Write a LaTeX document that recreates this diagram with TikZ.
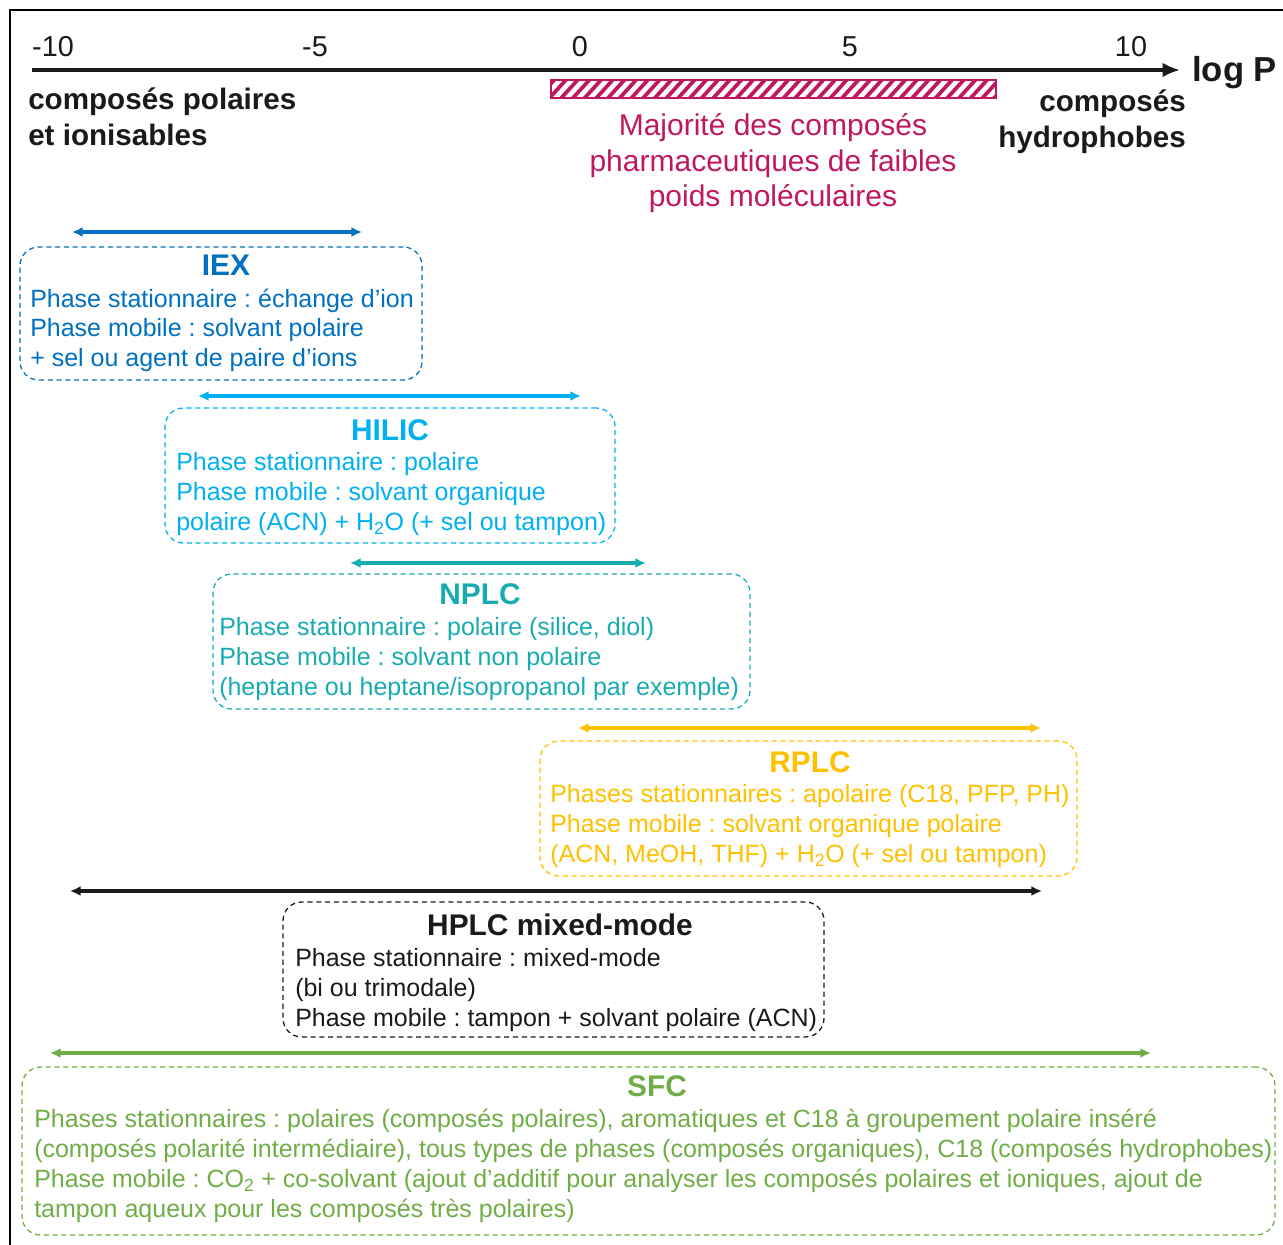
\documentclass[tikz,border=0pt]{standalone}
\usepackage{fontspec}
\setmainfont{Liberation Sans}
\usetikzlibrary{arrows.meta,fit}
\definecolor{iexc}{HTML}{0070C0}
\definecolor{hilicc}{HTML}{00B0F0}
\definecolor{nplcc}{HTML}{17ABB2}
\definecolor{rplcc}{HTML}{FFC000}
\definecolor{sfcc}{HTML}{70AD47}
\definecolor{pharmc}{HTML}{C0185E}
\definecolor{inkc}{HTML}{1A1A1A}
\frenchspacing
\newcommand\mylines[1]{\begin{tabular}[t]{@{}l@{}}#1\end{tabular}}
\newcommand\mylinesc[1]{\begin{tabular}[t]{@{}c@{}}#1\end{tabular}}
\newcommand\mylinesr[1]{\begin{tabular}[t]{@{}r@{}}#1\end{tabular}}
\tikzset{
  frameline/.style={line width=1.5pt, draw=black},
  axisline/.style={line width=3.5pt, draw=inkc, -{Latex[length=13pt,width=11pt]}},
  rng/.style={line width=2.4pt, {Latex[length=8pt,width=7.5pt]}-{Latex[length=8pt,width=7.5pt]}},
  mbox/.style={draw, line width=0.95pt, dash pattern=on 3.8pt off 2.8pt, rounded corners=14pt, inner sep=0pt},
  boxtitle/.style={font=\fontsize{22.4}{27}\selectfont\bfseries, anchor=base, inner sep=0pt},
  body/.style={font=\fontsize{18.75}{22.5}\selectfont, anchor=base west, inner sep=0pt},
  tick/.style={font=\fontsize{21.6}{26}\selectfont, text=inkc, anchor=base, inner sep=0pt},
  sidelab/.style={font=\fontsize{22.2}{27}\selectfont\bfseries, text=inkc, inner sep=0pt},
}
\begin{document}
\begin{tikzpicture}[x=0.75pt,y=-0.75pt]
\useasboundingbox (0,0) rectangle (1283,1245);
% frame
\draw[frameline] (10,1245) -- (10,10) -- (1283,10);
% axis
\coordinate (axL) at (32,70);
\coordinate (axR) at (1180,70);
\draw[axisline] (axL) -- (axR);
\node[tick] (tm10) at (53,57) {-10};
\node[tick] (tm5) at (315,57) {-5};
\node[tick] (t0) at (580,57) {0};
\node[tick] (t5) at (850,57) {5};
\node[tick] (t10) at (1131,57) {10};
\node[font=\fontsize{26}{30}\selectfont\bfseries, text=inkc, anchor=base west, inner sep=0pt] (logp) at (1192,82) {log P};
\node[sidelab, anchor=base west] (polar) at (28,110) {\fontsize{22.2}{27}\selectfont\mylines{composés polaires\\et ionisables}};
\node[sidelab, anchor=base east] (hydro) at (1186,112) {\fontsize{22.2}{26.5}\selectfont\mylinesr{composés\\hydrophobes}};
% hatched bar
\begin{scope}
\clip (551,80) rectangle (996,98);
\foreach \xx in {536,547.7,...,1010} {
  \draw[pharmc, line width=2.8pt] (\xx,100) -- (\xx+20,78);
}
\end{scope}
\node[draw=pharmc, line width=1.4pt, inner sep=0pt, fit={(551,80) (996,98)}] (bar) {};
\node[font=\fontsize{22.5}{26.6}\selectfont, text=pharmc, anchor=base, inner sep=0pt] (pharm) at (773,136) {\mylinesc{Majorité des composés\\pharmaceutiques de faibles\\poids moléculaires}};
% IEX
\coordinate (iexA) at (72,232); \coordinate (iexB) at (362,232);
\draw[rng, iexc] (iexA) -- (iexB);
\node[mbox, draw=iexc, fit={(20,247) (422,380)}] (iexbox) {};
\node[boxtitle, text=iexc] (iext) at (226,276) {IEX};
\node[body, text=iexc] (iexb) at (30,307) {\mylines{Phase stationnaire : échange d’ion\\Phase mobile : solvant polaire\\+ sel ou agent de paire d’ions}};
% HILIC
\coordinate (hilA) at (198,396); \coordinate (hilB) at (581,396);
\draw[rng, hilicc] (hilA) -- (hilB);
\node[mbox, draw=hilicc, fit={(165,408) (615,543)}] (hilbox) {};
\node[boxtitle, text=hilicc] (hilt) at (390,440) {HILIC};
\node[body, text=hilicc] (hilb) at (176,470) {\mylines{Phase stationnaire : polaire\\Phase mobile : solvant organique\\polaire (ACN) + H\textsubscript{2}O (+ sel ou tampon)}};
% NPLC
\coordinate (npA) at (350,563); \coordinate (npB) at (646,563);
\draw[rng, nplcc] (npA) -- (npB);
\node[mbox, draw=nplcc, fit={(213,574) (750,709)}] (npbox) {};
\node[boxtitle, text=nplcc] (npt) at (480,604) {NPLC};
\node[body, text=nplcc] (npb) at (219,635) {\mylines{Phase stationnaire : polaire (silice, diol)\\Phase mobile : solvant non polaire\\(heptane ou heptane/isopropanol par exemple)}};
% RPLC
\coordinate (rpA) at (578,728); \coordinate (rpB) at (1041,728);
\draw[rng, rplcc] (rpA) -- (rpB);
\node[mbox, draw=rplcc, fit={(540,741) (1077,876)}] (rpbox) {};
\node[boxtitle, text=rplcc] (rpt) at (810,772) {RPLC};
\node[body, text=rplcc] (rpb) at (550,802) {\mylines{Phases stationnaires : apolaire (C18, PFP, PH)\\Phase mobile : solvant organique polaire\\(ACN, MeOH, THF) + H\textsubscript{2}O (+ sel ou tampon)}};
% HPLC mixed-mode
\coordinate (hpA) at (70,891); \coordinate (hpB) at (1042,891);
\draw[rng, inkc] (hpA) -- (hpB);
\node[mbox, draw=inkc, fit={(283,902) (824,1037)}] (hpbox) {};
\node[boxtitle, text=inkc] (hpt) at (560,935) {HPLC mixed-mode};
\node[body, text=inkc] (hpb) at (295,966) {\mylines{Phase stationnaire : mixed-mode\\(bi ou trimodale)\\Phase mobile : tampon + solvant polaire (ACN)}};
% SFC
\coordinate (sfA) at (50,1053); \coordinate (sfB) at (1151,1053);
\draw[rng, sfcc] (sfA) -- (sfB);
\node[mbox, draw=sfcc, fit={(22,1067) (1275,1235)}] (sfbox) {};
\node[boxtitle, text=sfcc] (sft) at (657,1096) {SFC};
\node[body, text=sfcc] (sfb) at (34,1127) {\mylines{Phases stationnaires : polaires (composés polaires), aromatiques et C18 à groupement polaire inséré\\(composés polarité intermédiaire), tous types de phases (composés organiques), C18 (composés hydrophobes)\\Phase mobile : CO\textsubscript{2} + co-solvant (ajout d’additif pour analyser les composés polaires et ioniques, ajout de\\tampon aqueux pour les composés très polaires)}};
\end{tikzpicture}
\end{document}
